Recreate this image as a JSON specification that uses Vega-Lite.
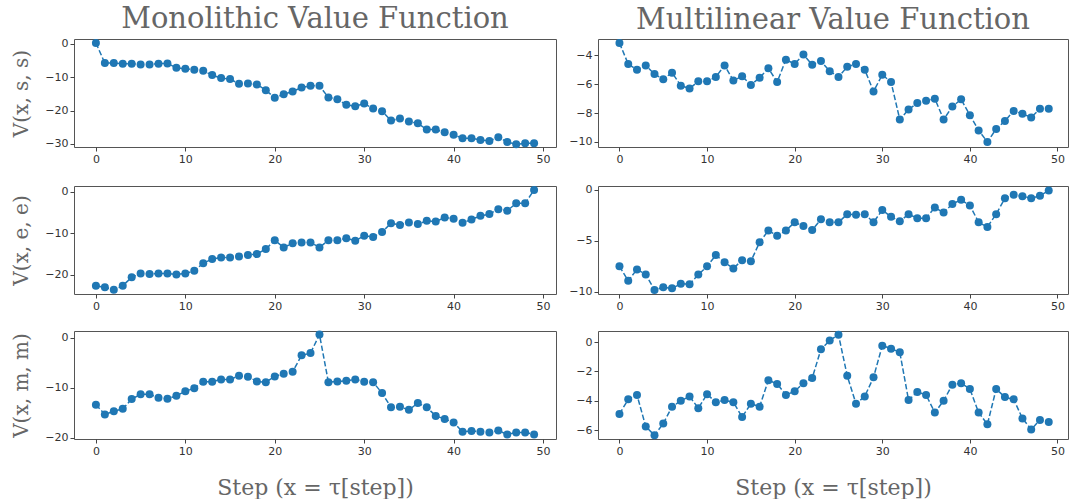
{
  "$schema": "https://vega.github.io/schema/vega-lite/v6.json",
  "padding": {"top": 4, "left": 10, "right": 0, "bottom": 0},
  "background": "white",
  "config": {
    "view": {"stroke": "#555", "strokeWidth": 1},
    "axis": {"grid": false, "domain": false, "tickColor": "#444", "tickSize": 4, "labelFont": "DejaVu Sans", "labelFontSize": 11, "labelColor": "#333", "labelPadding": 2, "titleFont": "DejaVu Serif", "titleColor": "#666", "titleFontWeight": "normal"},
    "axisY": {"minExtent": 30, "titleFontSize": 20, "titlePadding": 13},
    "axisX": {"titleFontSize": 22, "titlePadding": 21},
    "title": {"font": "DejaVu Serif", "fontSize": 29, "color": "#666", "fontWeight": "normal", "offset": 4}
  },
  "datasets": {
    "mono_s": [{"step":0,"v":0.2},{"step":1,"v":-5.8},{"step":2,"v":-5.8},{"step":3,"v":-6.0},{"step":4,"v":-6.0},{"step":5,"v":-6.2},{"step":6,"v":-6.2},{"step":7,"v":-6.0},{"step":8,"v":-5.9},{"step":9,"v":-7.2},{"step":10,"v":-7.5},{"step":11,"v":-7.8},{"step":12,"v":-8.1},{"step":13,"v":-9.4},{"step":14,"v":-10.3},{"step":15,"v":-10.6},{"step":16,"v":-12.0},{"step":17,"v":-11.9},{"step":18,"v":-12.2},{"step":19,"v":-13.9},{"step":20,"v":-16.2},{"step":21,"v":-15.1},{"step":22,"v":-14.3},{"step":23,"v":-13.1},{"step":24,"v":-12.6},{"step":25,"v":-12.6},{"step":26,"v":-16.1},{"step":27,"v":-16.6},{"step":28,"v":-18.3},{"step":29,"v":-18.7},{"step":30,"v":-17.9},{"step":31,"v":-19.4},{"step":32,"v":-20.2},{"step":33,"v":-23.0},{"step":34,"v":-22.4},{"step":35,"v":-23.3},{"step":36,"v":-23.8},{"step":37,"v":-25.7},{"step":38,"v":-25.7},{"step":39,"v":-26.5},{"step":40,"v":-27.2},{"step":41,"v":-28.3},{"step":42,"v":-28.3},{"step":43,"v":-28.8},{"step":44,"v":-29.1},{"step":45,"v":-28.0},{"step":46,"v":-29.4},{"step":47,"v":-30.1},{"step":48,"v":-29.8},{"step":49,"v":-29.8}],
    "multi_s": [{"step":0,"v":-3.15},{"step":1,"v":-4.6},{"step":2,"v":-5.0},{"step":3,"v":-4.7},{"step":4,"v":-5.3},{"step":5,"v":-5.65},{"step":6,"v":-5.2},{"step":7,"v":-6.1},{"step":8,"v":-6.3},{"step":9,"v":-5.8},{"step":10,"v":-5.8},{"step":11,"v":-5.5},{"step":12,"v":-4.7},{"step":13,"v":-5.75},{"step":14,"v":-5.45},{"step":15,"v":-6.05},{"step":16,"v":-5.55},{"step":17,"v":-4.9},{"step":18,"v":-5.85},{"step":19,"v":-4.3},{"step":20,"v":-4.6},{"step":21,"v":-3.95},{"step":22,"v":-4.65},{"step":23,"v":-4.4},{"step":24,"v":-5.1},{"step":25,"v":-5.5},{"step":26,"v":-4.8},{"step":27,"v":-4.6},{"step":28,"v":-5.0},{"step":29,"v":-6.5},{"step":30,"v":-5.35},{"step":31,"v":-5.85},{"step":32,"v":-8.45},{"step":33,"v":-7.75},{"step":34,"v":-7.3},{"step":35,"v":-7.15},{"step":36,"v":-7.0},{"step":37,"v":-8.45},{"step":38,"v":-7.55},{"step":39,"v":-7.05},{"step":40,"v":-8.15},{"step":41,"v":-9.2},{"step":42,"v":-10.0},{"step":43,"v":-9.1},{"step":44,"v":-8.55},{"step":45,"v":-7.85},{"step":46,"v":-8.05},{"step":47,"v":-8.3},{"step":48,"v":-7.7},{"step":49,"v":-7.7}],
    "mono_e": [{"step":0,"v":-22.6},{"step":1,"v":-23.0},{"step":2,"v":-23.6},{"step":3,"v":-22.6},{"step":4,"v":-20.6},{"step":5,"v":-19.7},{"step":6,"v":-19.8},{"step":7,"v":-19.7},{"step":8,"v":-19.7},{"step":9,"v":-19.9},{"step":10,"v":-19.7},{"step":11,"v":-19.0},{"step":12,"v":-17.2},{"step":13,"v":-16.2},{"step":14,"v":-15.8},{"step":15,"v":-15.8},{"step":16,"v":-15.6},{"step":17,"v":-15.2},{"step":18,"v":-15.0},{"step":19,"v":-13.8},{"step":20,"v":-11.7},{"step":21,"v":-13.4},{"step":22,"v":-12.4},{"step":23,"v":-12.2},{"step":24,"v":-12.2},{"step":25,"v":-13.4},{"step":26,"v":-11.7},{"step":27,"v":-11.7},{"step":28,"v":-11.2},{"step":29,"v":-11.8},{"step":30,"v":-10.6},{"step":31,"v":-10.9},{"step":32,"v":-9.7},{"step":33,"v":-7.6},{"step":34,"v":-8.0},{"step":35,"v":-7.4},{"step":36,"v":-7.8},{"step":37,"v":-7.0},{"step":38,"v":-7.2},{"step":39,"v":-6.2},{"step":40,"v":-6.5},{"step":41,"v":-7.5},{"step":42,"v":-6.7},{"step":43,"v":-5.8},{"step":44,"v":-5.4},{"step":45,"v":-4.2},{"step":46,"v":-4.6},{"step":47,"v":-2.8},{"step":48,"v":-2.8},{"step":49,"v":0.4}],
    "multi_e": [{"step":0,"v":-7.5},{"step":1,"v":-8.9},{"step":2,"v":-7.8},{"step":3,"v":-8.3},{"step":4,"v":-9.8},{"step":5,"v":-9.55},{"step":6,"v":-9.65},{"step":7,"v":-9.2},{"step":8,"v":-9.25},{"step":9,"v":-8.3},{"step":10,"v":-7.5},{"step":11,"v":-6.4},{"step":12,"v":-7.1},{"step":13,"v":-7.7},{"step":14,"v":-6.9},{"step":15,"v":-7.0},{"step":16,"v":-5.15},{"step":17,"v":-4.0},{"step":18,"v":-4.5},{"step":19,"v":-4.0},{"step":20,"v":-3.2},{"step":21,"v":-3.55},{"step":22,"v":-3.95},{"step":23,"v":-2.9},{"step":24,"v":-3.2},{"step":25,"v":-3.2},{"step":26,"v":-2.4},{"step":27,"v":-2.45},{"step":28,"v":-2.4},{"step":29,"v":-3.2},{"step":30,"v":-2.0},{"step":31,"v":-2.65},{"step":32,"v":-3.1},{"step":33,"v":-2.4},{"step":34,"v":-2.8},{"step":35,"v":-2.8},{"step":36,"v":-1.75},{"step":37,"v":-2.25},{"step":38,"v":-1.4},{"step":39,"v":-1.0},{"step":40,"v":-1.55},{"step":41,"v":-3.2},{"step":42,"v":-3.65},{"step":43,"v":-2.4},{"step":44,"v":-0.85},{"step":45,"v":-0.5},{"step":46,"v":-0.65},{"step":47,"v":-0.85},{"step":48,"v":-0.6},{"step":49,"v":-0.1}],
    "mono_m": [{"step":0,"v":-13.4},{"step":1,"v":-15.3},{"step":2,"v":-14.7},{"step":3,"v":-14.2},{"step":4,"v":-12.25},{"step":5,"v":-11.3},{"step":6,"v":-11.3},{"step":7,"v":-12.0},{"step":8,"v":-12.2},{"step":9,"v":-11.6},{"step":10,"v":-10.7},{"step":11,"v":-10.1},{"step":12,"v":-8.8},{"step":13,"v":-8.8},{"step":14,"v":-8.35},{"step":15,"v":-8.35},{"step":16,"v":-7.6},{"step":17,"v":-7.8},{"step":18,"v":-8.75},{"step":19,"v":-8.9},{"step":20,"v":-7.75},{"step":21,"v":-7.2},{"step":22,"v":-6.8},{"step":23,"v":-3.55},{"step":24,"v":-3.1},{"step":25,"v":0.6},{"step":26,"v":-8.9},{"step":27,"v":-8.75},{"step":28,"v":-8.6},{"step":29,"v":-8.35},{"step":30,"v":-8.8},{"step":31,"v":-8.9},{"step":32,"v":-11.05},{"step":33,"v":-13.9},{"step":34,"v":-13.8},{"step":35,"v":-14.4},{"step":36,"v":-13.05},{"step":37,"v":-13.9},{"step":38,"v":-15.6},{"step":39,"v":-16.2},{"step":40,"v":-16.9},{"step":41,"v":-18.75},{"step":42,"v":-18.6},{"step":43,"v":-18.75},{"step":44,"v":-18.9},{"step":45,"v":-18.5},{"step":46,"v":-19.3},{"step":47,"v":-18.9},{"step":48,"v":-18.9},{"step":49,"v":-19.3}],
    "multi_m": [{"step":0,"v":-4.9},{"step":1,"v":-3.9},{"step":2,"v":-3.6},{"step":3,"v":-5.75},{"step":4,"v":-6.35},{"step":5,"v":-5.55},{"step":6,"v":-4.4},{"step":7,"v":-4.0},{"step":8,"v":-3.7},{"step":9,"v":-4.5},{"step":10,"v":-3.55},{"step":11,"v":-4.1},{"step":12,"v":-3.95},{"step":13,"v":-4.1},{"step":14,"v":-5.1},{"step":15,"v":-4.2},{"step":16,"v":-4.4},{"step":17,"v":-2.6},{"step":18,"v":-2.85},{"step":19,"v":-3.6},{"step":20,"v":-3.35},{"step":21,"v":-2.8},{"step":22,"v":-2.45},{"step":23,"v":-0.5},{"step":24,"v":0.1},{"step":25,"v":0.5},{"step":26,"v":-2.3},{"step":27,"v":-4.2},{"step":28,"v":-3.7},{"step":29,"v":-2.4},{"step":30,"v":-0.25},{"step":31,"v":-0.45},{"step":32,"v":-0.7},{"step":33,"v":-3.95},{"step":34,"v":-3.4},{"step":35,"v":-3.6},{"step":36,"v":-4.8},{"step":37,"v":-4.0},{"step":38,"v":-2.9},{"step":39,"v":-2.8},{"step":40,"v":-3.2},{"step":41,"v":-4.8},{"step":42,"v":-5.6},{"step":43,"v":-3.2},{"step":44,"v":-3.75},{"step":45,"v":-3.9},{"step":46,"v":-5.2},{"step":47,"v":-5.95},{"step":48,"v":-5.3},{"step":49,"v":-5.45}]
  },
  "columns": 2,
  "spacing": {"row": 18, "column": 10},
  "concat": [
    {
      "width": 482, "height": 108,
      "title": {"text": "Monolithic Value Function"},
      "data": {"name": "mono_s"},
      "encoding": {
        "x": {"field": "step", "type": "quantitative", "scale": {"domain": [-2.45, 51.45], "nice": false, "zero": false}, "axis": {"values": [0,10,20,30,40,50], "title": null}},
        "y": {"field": "v", "type": "quantitative", "scale": {"domain": [-30.9, 1.4], "nice": false, "zero": false}, "axis": {"values": [0,-10,-20,-30], "title": "V(x, s, s)"}}
      },
      "layer": [
        {"mark": {"type": "line", "color": "#1f77b4", "strokeDash": [5.5, 2.4], "strokeWidth": 1.5}},
        {"mark": {"type": "point", "filled": true, "color": "#1f77b4", "size": 64, "opacity": 1}}
      ]
    },
    {
      "width": 470, "height": 108,
      "title": {"text": "Multilinear Value Function"},
      "data": {"name": "multi_s"},
      "encoding": {
        "x": {"field": "step", "type": "quantitative", "scale": {"domain": [-2.45, 51.2], "nice": false, "zero": false}, "axis": {"values": [0,10,20,30,40,50], "title": null}},
        "y": {"field": "v", "type": "quantitative", "scale": {"domain": [-10.35, -2.87], "nice": false, "zero": false}, "axis": {"values": [-4,-6,-8,-10], "title": null}}
      },
      "layer": [
        {"mark": {"type": "line", "color": "#1f77b4", "strokeDash": [5.5, 2.4], "strokeWidth": 1.5}},
        {"mark": {"type": "point", "filled": true, "color": "#1f77b4", "size": 64, "opacity": 1}}
      ]
    },
    {
      "width": 482, "height": 108,
      "data": {"name": "mono_e"},
      "encoding": {
        "x": {"field": "step", "type": "quantitative", "scale": {"domain": [-2.45, 51.45], "nice": false, "zero": false}, "axis": {"values": [0,10,20,30,40,50], "title": null}},
        "y": {"field": "v", "type": "quantitative", "scale": {"domain": [-24.6, 1.36], "nice": false, "zero": false}, "axis": {"values": [0,-10,-20], "title": "V(x, e, e)"}}
      },
      "layer": [
        {"mark": {"type": "line", "color": "#1f77b4", "strokeDash": [5.5, 2.4], "strokeWidth": 1.5}},
        {"mark": {"type": "point", "filled": true, "color": "#1f77b4", "size": 64, "opacity": 1}}
      ]
    },
    {
      "width": 470, "height": 108,
      "data": {"name": "multi_e"},
      "encoding": {
        "x": {"field": "step", "type": "quantitative", "scale": {"domain": [-2.45, 51.2], "nice": false, "zero": false}, "axis": {"values": [0,10,20,30,40,50], "title": null}},
        "y": {"field": "v", "type": "quantitative", "scale": {"domain": [-10.2, 0.35], "nice": false, "zero": false}, "axis": {"values": [0,-5,-10], "title": null}}
      },
      "layer": [
        {"mark": {"type": "line", "color": "#1f77b4", "strokeDash": [5.5, 2.4], "strokeWidth": 1.5}},
        {"mark": {"type": "point", "filled": true, "color": "#1f77b4", "size": 64, "opacity": 1}}
      ]
    },
    {
      "width": 482, "height": 108,
      "data": {"name": "mono_m"},
      "encoding": {
        "x": {"field": "step", "type": "quantitative", "scale": {"domain": [-2.45, 51.45], "nice": false, "zero": false}, "axis": {"values": [0,10,20,30,40,50], "title": "Step (x = τ[step])"}},
        "y": {"field": "v", "type": "quantitative", "scale": {"domain": [-20.2, 1.3], "nice": false, "zero": false}, "axis": {"values": [0,-10,-20], "title": "V(x, m, m)"}}
      },
      "layer": [
        {"mark": {"type": "line", "color": "#1f77b4", "strokeDash": [5.5, 2.4], "strokeWidth": 1.5}},
        {"mark": {"type": "point", "filled": true, "color": "#1f77b4", "size": 64, "opacity": 1}}
      ]
    },
    {
      "width": 470, "height": 108,
      "data": {"name": "multi_m"},
      "encoding": {
        "x": {"field": "step", "type": "quantitative", "scale": {"domain": [-2.45, 51.2], "nice": false, "zero": false}, "axis": {"values": [0,10,20,30,40,50], "title": "Step (x = τ[step])"}},
        "y": {"field": "v", "type": "quantitative", "scale": {"domain": [-6.6, 0.75], "nice": false, "zero": false}, "axis": {"values": [0,-2,-4,-6], "title": null}}
      },
      "layer": [
        {"mark": {"type": "line", "color": "#1f77b4", "strokeDash": [5.5, 2.4], "strokeWidth": 1.5}},
        {"mark": {"type": "point", "filled": true, "color": "#1f77b4", "size": 64, "opacity": 1}}
      ]
    }
  ]
}
